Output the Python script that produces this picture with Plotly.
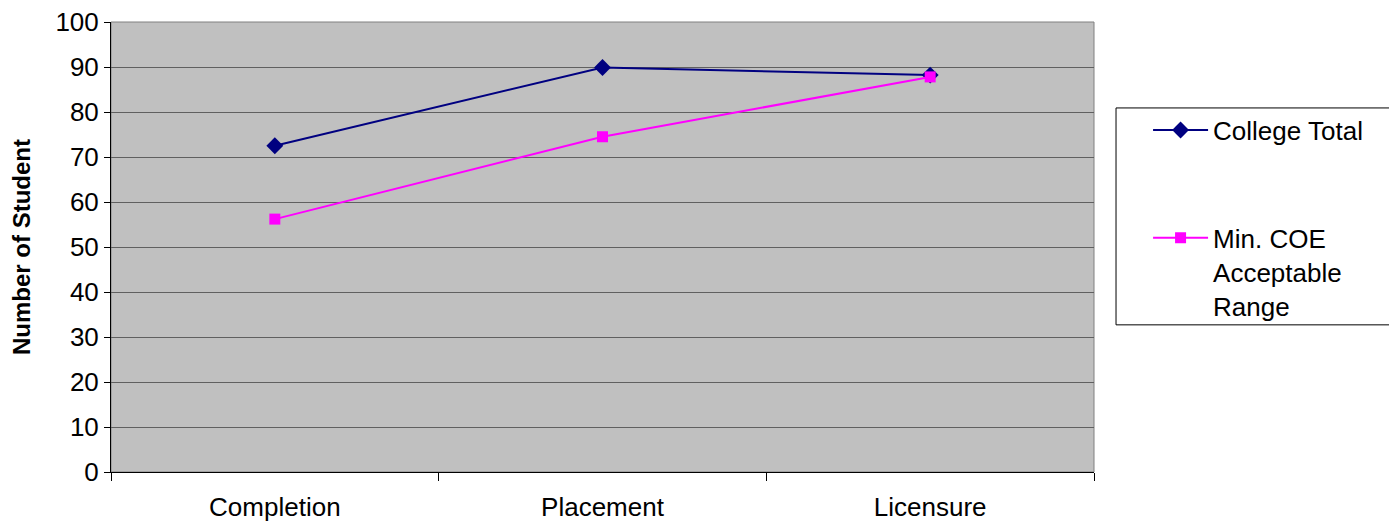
import plotly.graph_objects as go

categories = ["Completion", "Placement", "Licensure"]
college_total = [72.5, 89.9, 88.2]
min_coe = [56.2, 74.5, 87.8]
y_ticks = [0, 10, 20, 30, 40, 50, 60, 70, 80, 90, 100]

fig = go.Figure()

fig.add_trace(go.Scatter(
    x=categories, y=college_total,
    mode="lines+markers",
    name="College Total",
    legendgroup="a",
    line=dict(color="#000080", width=2),
    marker=dict(symbol="diamond", size=13, color="#000080")
))

fig.add_trace(go.Scatter(
    x=categories, y=min_coe,
    mode="lines+markers",
    name="Min. COE<br>Acceptable<br>Range",
    legendgroup="b",
    line=dict(color="#FF00FF", width=2),
    marker=dict(symbol="square", size=11, color="#FF00FF")
))

# caja de la leyenda
fig.add_shape(type="rect", xref="paper", yref="paper",
              x0=1.0224, x1=1.3032, y0=0.327, y1=0.809,
              line=dict(color="black", width=1), fillcolor="white", layer="below")

# borde gris del área de trazado
fig.add_shape(type="rect", xref="paper", yref="paper", x0=0, x1=1, y0=0, y1=1,
              line=dict(color="#808080", width=1), layer="below")

fig.update_layout(
    width=1389, height=514,
    margin=dict(l=103, r=303, t=14, b=50),
    paper_bgcolor="white",
    plot_bgcolor="#C0C0C0",
    font=dict(family="Liberation Sans, Arial", size=26, color="black"),
    showlegend=True,
    legend=dict(
        x=1.055, y=0.812, xanchor="left", yanchor="top",
        bgcolor="rgba(0,0,0,0)",
        itemwidth=55,
        valign="top",
        tracegroupgap=71,
        font=dict(size=26),
    ),
    xaxis=dict(
        type="category",
        range=[-0.5, 2.5],
        tickson="boundaries",
        ticks="outside", ticklen=8, tickcolor="black",
        ticklabelstandoff=12,
        automargin=False,
        ticklabeloverflow="allow",
        showgrid=False,
        showline=True, linecolor="black", linewidth=1,
        tickfont=dict(size=26),
    ),
    yaxis=dict(
        range=[0, 100],
        tickmode="array", tickvals=y_ticks, ticktext=[str(v) for v in y_ticks],
        ticks="outside", ticklen=6, tickcolor="black",
        automargin=False,
        ticklabeloverflow="allow",
        showgrid=True, gridcolor="#606060", gridwidth=1,
        showline=True, linecolor="black", linewidth=1,
        zeroline=False,
        tickfont=dict(size=26),
        title=dict(text="<b>Number of Student</b>", font=dict(size=24), standoff=34),
    ),
)

fig.write_html("out.html")
